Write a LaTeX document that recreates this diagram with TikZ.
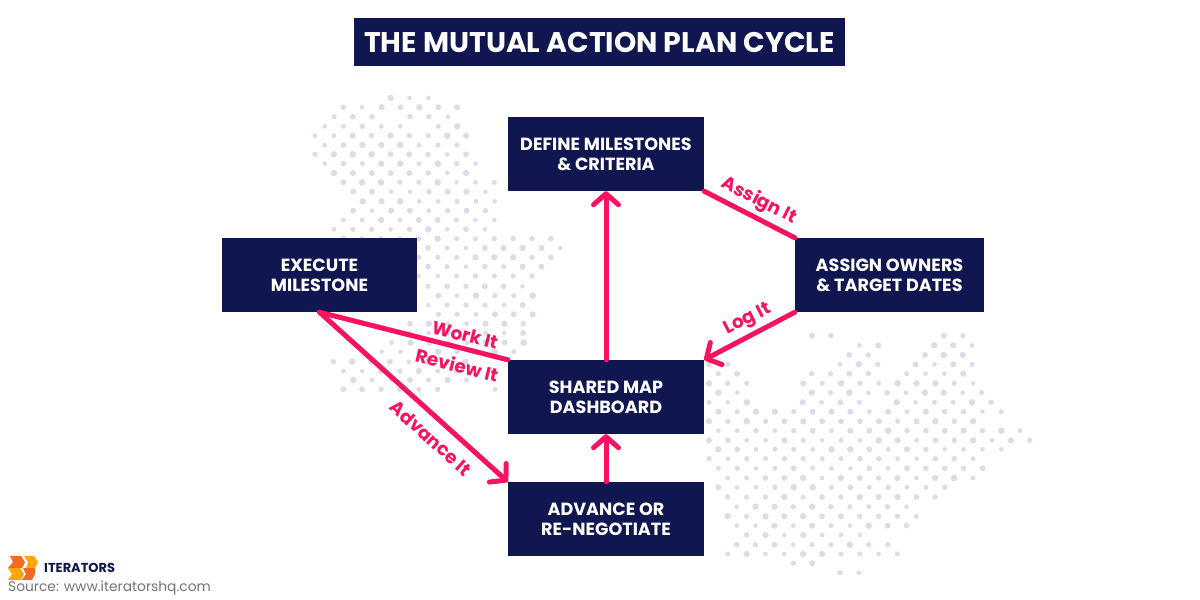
\documentclass[tikz,border=0pt]{standalone}
\usepackage{fontspec}
\setmainfont{Poppins}
\usetikzlibrary{arrows.meta}
\definecolor{planNavy}{HTML}{10164F}
\definecolor{planPink}{HTML}{F7135F}
\definecolor{planDot}{HTML}{DCDBE8}
\definecolor{logoOrange}{HTML}{F26B21}
\definecolor{logoAmber}{HTML}{FFA60A}
\tikzset{
    planbox/.style={fill=planNavy, text=white, align=center, inner sep=0pt,
        font=\fontsize{17.6}{20}\selectfont\bfseries},
    planline/.style={draw=planPink, line width=5pt, line cap=round},
    planarrow/.style={planline, -{Straight Barb[length=11pt,width=25pt,round]}},
    planlabel/.style={text=planPink, inner sep=0pt, font=\fontsize{18.4}{20}\selectfont\bfseries},
    halftone/.style={fill=planDot}
}
\newcommand{\dotrows}[1]{%
    \foreach \rowy/\xa/\xb in {#1} {
        \pgfmathsetmacro{\xnext}{\xa+56.6}
        \pgfmathsetmacro{\xlast}{\xb+5}
        \foreach \x in {\xa,\xnext,...,\xlast} {
            \pgfmathsetmacro{\dotr}{6.5+3.5*rnd}
            \fill [halftone] (\x, \rowy) circle (\dotr);
        }
    }
}
\begin{document}
\begin{tikzpicture}[x=1pt, y=-1pt]
    \useasboundingbox (0, 0) rectangle (1200, 600);
    \pgfmathsetseed{7}
    % dots, upper left
    \begin{scope}[shift={(300, 90)}, scale=1/3]
        \dotrows{24/272/390, 52/130/130, 52/245/470, 80/102/217, 80/330/445,
            109/74/300, 109/415/415, 137/45/330, 137/385/500, 165/74/470,
            193/45/500, 221/74/530, 249/102/500, 277/130/585, 305/160/555,
            334/188/585, 362/160/555, 390/130/585, 418/102/585, 446/130/755,
            474/328/785, 502/300/755, 530/328/755, 558/300/730, 589/328/700,
            617/415/700, 645/385/670, 673/415/700, 701/330/670, 729/330/700,
            758/275/670, 785/245/640, 815/100/520, 843/130/500, 870/160/500,
            898/130/415, 898/585/585}
    \end{scope}
    % dots, lower right
    \begin{scope}[shift={(700, 320)}, scale=1/3]
        \dotrows{47/336/336, 47/732/790, 76/478/478, 76/703/815, 105/448/505,
            105/675/790, 133/27/83, 133/420/530, 133/647/815, 161/55/110,
            161/335/505, 161/620/815, 190/27/140, 190/310/815, 218/55/110,
            218/335/845, 247/27/140, 247/308/480, 247/590/870, 275/55/900,
            304/27/870, 332/55/960, 361/27/985, 388/55/900, 416/27/870,
            445/55/845, 474/83/870, 502/55/785, 531/83/705, 560/110/620,
            589/83/650, 617/110/620, 645/140/480, 674/110/560, 702/83/590,
            730/280/335, 758/420/480}
    \end{scope}
    % title
    \node (title) [fill=planNavy, text=white, minimum width=491pt, minimum height=48pt, inner sep=0pt,
        font=\fontsize{28.4}{30}\selectfont\bfseries] at (599.5, 42) {THE MUTUAL ACTION PLAN CYCLE};
    % boxes
    \node (define) [planbox, minimum width=196pt, minimum height=74pt] at (606, 154) {DEFINE MILESTONES\\\& CRITERIA};
    \node (owners) [planbox, minimum width=189pt, minimum height=74pt] at (889.5, 275) {ASSIGN OWNERS\\\& TARGET DATES};
    \node (execute) [planbox, minimum width=195pt, minimum height=74pt] at (319.5, 275) {EXECUTE\\MILESTONE};
    \node (shared) [planbox, minimum width=196pt, minimum height=74pt] at (606, 397) {SHARED MAP\\DASHBOARD};
    \node (advance) [planbox, minimum width=196pt, minimum height=74pt] at (606, 519) {ADVANCE OR\\RE-NEGOTIATE};
    % connectors
    \draw [planline] (define.south east) -- (owners.north west);
    \draw [planarrow] (owners.south west) -- (shared.north east);
    \draw [planline] (shared.north west) -- (execute.south);
    \draw [planarrow] (execute.south) -- (advance.north west);
    \draw [planarrow] (shared.north) -- (define.south);
    \draw [planarrow] (advance.north) -- (shared.south);
    % labels
    \node (assignit) [planlabel, rotate=-27] at (759, 201) {Assign It};
    \node (logit) [planlabel, rotate=27] at (748, 320) {Log It};
    \node (workit) [planlabel, rotate=-14] at (465, 335) {Work It};
    \node (reviewit) [planlabel, rotate=-14] at (457, 365) {Review It};
    \node (advanceit) [planlabel, rotate=-42] at (431, 438) {Advance It};
    % logo
    \fill [logoOrange] (10, 556) -- (21, 556) -- (25, 562) -- (22, 568) -- (8, 568) -- (13, 562) -- cycle;
    \fill [logoAmber] (24, 556) -- (34, 556) -- (38, 562) -- (35, 568) -- (26, 568) -- (28, 562) -- cycle;
    \fill [logoAmber] (8, 568) -- (20, 568) -- (24, 574) -- (21, 580) -- (8, 580) -- (12, 574) -- cycle;
    \fill [logoOrange] (23, 568) -- (35, 568) -- (35, 574) -- (32, 580) -- (22, 580) -- (26, 574) -- cycle;
    \node (brand) [anchor=west, inner sep=0pt, text=planNavy, font=\fontsize{13}{14}\selectfont\bfseries] at (44, 568) {ITERATORS};
    \node (source) [anchor=west, inner sep=0pt, text=black!55, font=\fontsize{13.8}{16}\selectfont] at (8, 588) {Source: www.iteratorshq.com};
\end{tikzpicture}
\end{document}
